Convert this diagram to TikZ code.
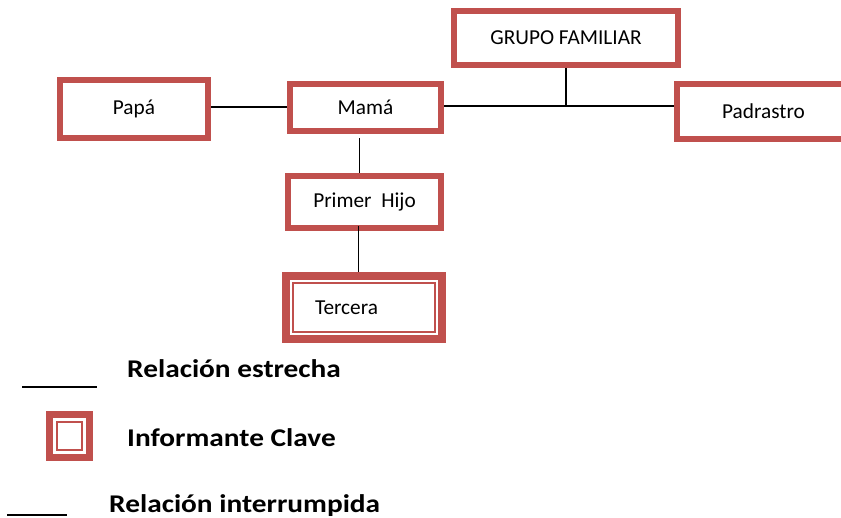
\documentclass[tikz,border=0pt]{standalone}
\usepackage{fontspec}
\setmainfont{Carlito}
\newfontfamily\leyendafont[FakeStretch=1.15]{Carlito}
\usetikzlibrary{positioning}
\definecolor{rojo}{RGB}{192,80,77}

\begin{document}
\begin{tikzpicture}[x=1pt,y=-1pt,
  caja/.style={draw=rojo,line width=6pt,rectangle,inner sep=0pt,fill=white,
    font=\fontsize{21.3}{25}\selectfont},
  linea/.style={line width=1.6pt,black},
  leyenda/.style={anchor=base west,inner sep=0pt,font=\leyendafont\fontsize{25.5}{30}\selectfont\bfseries}]
\useasboundingbox (0,0) rectangle (841,518);
\clip (0,0) rectangle (841,518);
% cajas
\node[caja,minimum width=224pt,minimum height=54pt] (gru) at (566,38) {GRUPO FAMILIAR};
\node[caja,minimum width=148pt,minimum height=58pt] (pap) at (134,109) {Papá};
\node[caja,minimum width=151pt,minimum height=47pt] (mam) at (365.5,107.5) {Mamá};
\node[caja,minimum width=173pt,minimum height=55pt] (pad) at (763.5,111.5) {Padrastro};
\node[caja,minimum width=153pt,minimum height=52pt] (hij) at (364.5,202) {Primer~~Hijo};
\node[caja,line width=8pt,minimum width=156pt,minimum height=63pt,text width=98pt,align=left] (ter) at (364,307.5) {Tercera};
\draw[rojo,line width=2pt] ([shift={(11pt,-11pt)}]ter.north west) rectangle ([shift={(-11pt,11pt)}]ter.south east);
% lineas
\draw[linea] (pap.east |- 0,107) -- (mam.west |- 0,107);
\draw[linea] (mam.east |- 0,106) -- (pad.west |- 0,106);
\draw[linea] (gru.south) -- (gru.south |- 0,106);
\draw[linea] ([xshift=-6pt,yshift=-4pt]mam.south) -- ([xshift=-6pt]mam.south |- hij.north);
\draw[linea] ([xshift=-6pt,yshift=5pt]hij.south) -- ([xshift=-6pt]hij.south |- ter.north);
% leyenda
\coordinate (e1) at (22,387);
\coordinate (e2) at (97,387);
\draw[linea] (e1) -- (e2);
\node[leyenda] (est) at (127,378) {Relación estrecha};
\node[caja,line width=7pt,minimum width=40pt,minimum height=43pt] (cla) at (69.5,436) {};
\draw[rojo,line width=2.5pt] ([shift={(11pt,-11pt)}]cla.north west) rectangle ([shift={(-11pt,11pt)}]cla.south east);
\node[leyenda] (inf) at (127,447) {Informante Clave};
\coordinate (i1) at (7,515);
\coordinate (i2) at (67,515);
\draw[linea] (i1) -- (i2);
\node[leyenda] (int) at (109,512) {Relación interrumpida};
\end{tikzpicture}
\end{document}
